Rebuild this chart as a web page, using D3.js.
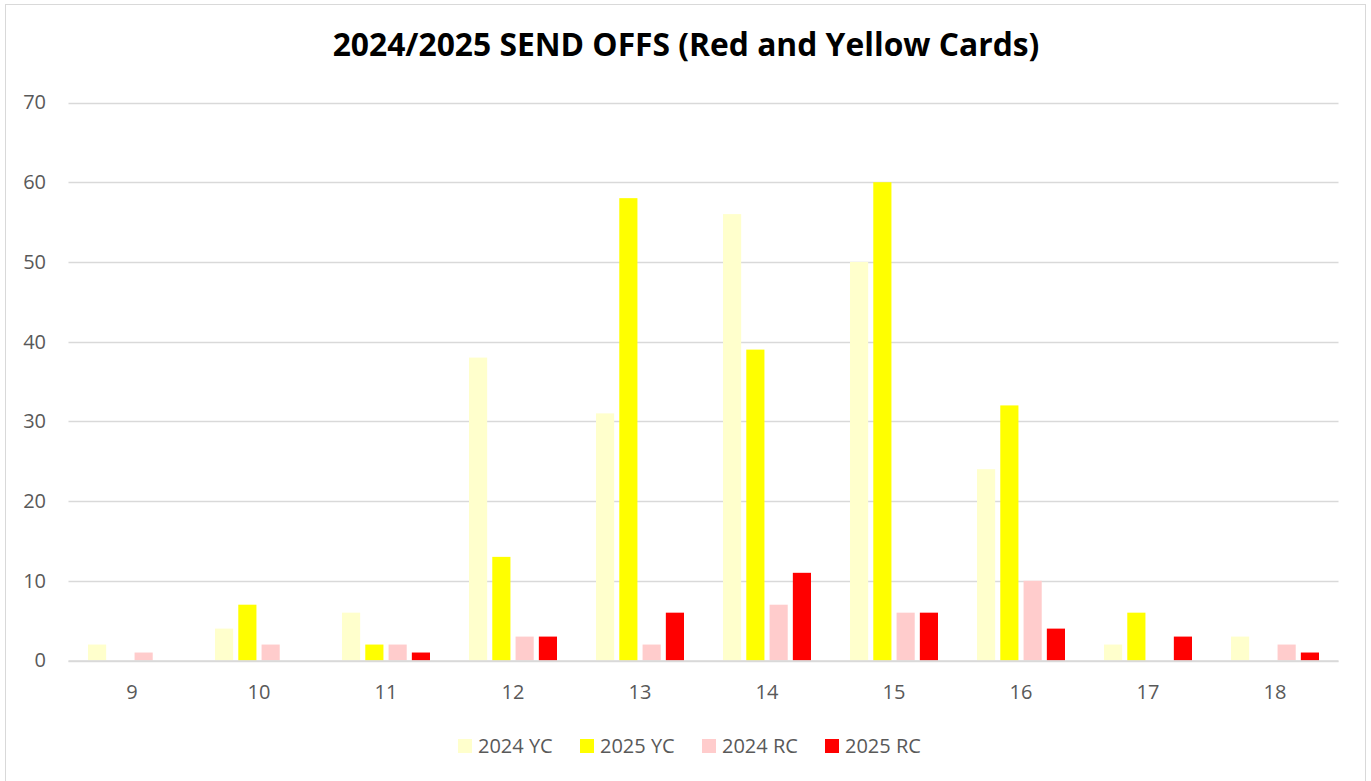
<!DOCTYPE html>
<html><head><meta charset="utf-8">
<script src="https://cdn.jsdelivr.net/npm/d3@7"></script>
<style>body{margin:0;background:#fff}svg{display:block}</style>
</head><body>
<script>
const categories = ["9","10","11","12","13","14","15","16","17","18"];
const seriesNames = ["2024 YC","2025 YC","2024 RC","2025 RC"];
const yc2024 = [2,4,6,38,31,56,50,24,2,3];
const yc2025 = [0,7,2,13,58,39,60,32,6,0];
const rc2024 = [1,2,2,3,2,7,6,10,0,2];
const rc2025 = [0,0,1,3,6,11,6,4,3,1];
const yTicks = [0,10,20,30,40,50,60,70];
const colors = ["#FFFFCC","#FFFF00","#FFCCCC","#FF0000"];
const seriesValues = [yc2024, yc2025, rc2024, rc2025];

(function(){
const W = 1371, H = 781;
const svg = d3.select("body").append("svg").attr("width", W).attr("height", H);
svg.append("rect").attr("x",5.5).attr("y",4.5).attr("width",1360).attr("height",790)
  .attr("fill","#fff").attr("stroke","#d9d9d9").attr("stroke-width",1);

const font = "'Open Sans', sans-serif";
const pLeft = 68.5, pRight = 1338.5, pTop = 102.5, pBottom = 660.5;
const x0 = d3.scaleBand().domain(categories).range([pLeft, pRight]).padding(0);
const groupW = 88;
const x1 = d3.scaleBand().domain(seriesNames).range([(x0.bandwidth()-groupW)/2, (x0.bandwidth()+groupW)/2]).paddingInner(0.22);
const y = d3.scaleLinear().domain([0,70]).range([pBottom, pTop]);

svg.append("g").selectAll("line").data(yTicks).join("line")
  .attr("x1", pLeft).attr("x2", pRight)
  .attr("y1", d => Math.round(y(d))+0.5).attr("y2", d => Math.round(y(d))+0.5)
  .attr("stroke", "#d9d9d9").attr("stroke-width", 1.5);

const yAxis = d3.axisLeft(y).tickValues(yTicks).tickSize(0).tickPadding(0);
const gy = svg.append("g").attr("transform", `translate(46,0)`).call(yAxis);
gy.select(".domain").remove();
gy.selectAll("text").attr("font-family", font).attr("font-size", 20).attr("fill", "#595959");

const rows = categories.map((c,i) => ({cat:c, vals: seriesValues.map((s,k)=>({name:seriesNames[k], v:s[i], k}))}));
svg.append("g").selectAll("g").data(rows).join("g")
  .attr("transform", d => `translate(${x0(d.cat)},0)`)
  .selectAll("rect").data(d => d.vals.filter(v=>v.v>0)).join("rect")
  .attr("x", d => x1(d.name)).attr("width", x1.bandwidth())
  .attr("y", d => y(d.v)).attr("height", d => y(0)-y(d.v))
  .attr("fill", d => colors[d.k]);

svg.append("line").attr("x1", pLeft).attr("x2", pRight).attr("y1", pBottom+0.5).attr("y2", pBottom+0.5)
  .attr("stroke", "#d9d9d9").attr("stroke-width", 1.5);

const xAxis = d3.axisBottom(x0).tickSize(0).tickPadding(0);
const gx = svg.append("g").attr("transform", `translate(0,${pBottom})`).call(xAxis);
gx.select(".domain").remove();
gx.selectAll("text").attr("dy", null).attr("y", 38).attr("font-family", font).attr("font-size", 20).attr("fill", "#595959");

const title = svg.append("text").attr("x", 686).attr("y", 56).attr("text-anchor","middle")
  .attr("font-family", font).attr("font-weight","bold").attr("font-size", 30).attr("fill","#000")
  .text("2024/2025 SEND OFFS (Red and Yellow Cards)");
const tw = title.node().getComputedTextLength();
title.attr("font-size", 30 * 707 / tw);

const legX = [458, 580, 702, 825];
const lg = svg.append("g").selectAll("g").data(seriesNames).join("g")
  .attr("transform", (d,i) => `translate(${legX[i]},739)`);
lg.append("rect").attr("width",14).attr("height",14).attr("fill",(d,i)=>colors[i]);
lg.append("text").attr("x",20).attr("y",14).attr("font-family",font).attr("font-size",20)
  .attr("fill","#595959").text(d=>d);
})();
</script>
</body></html>
